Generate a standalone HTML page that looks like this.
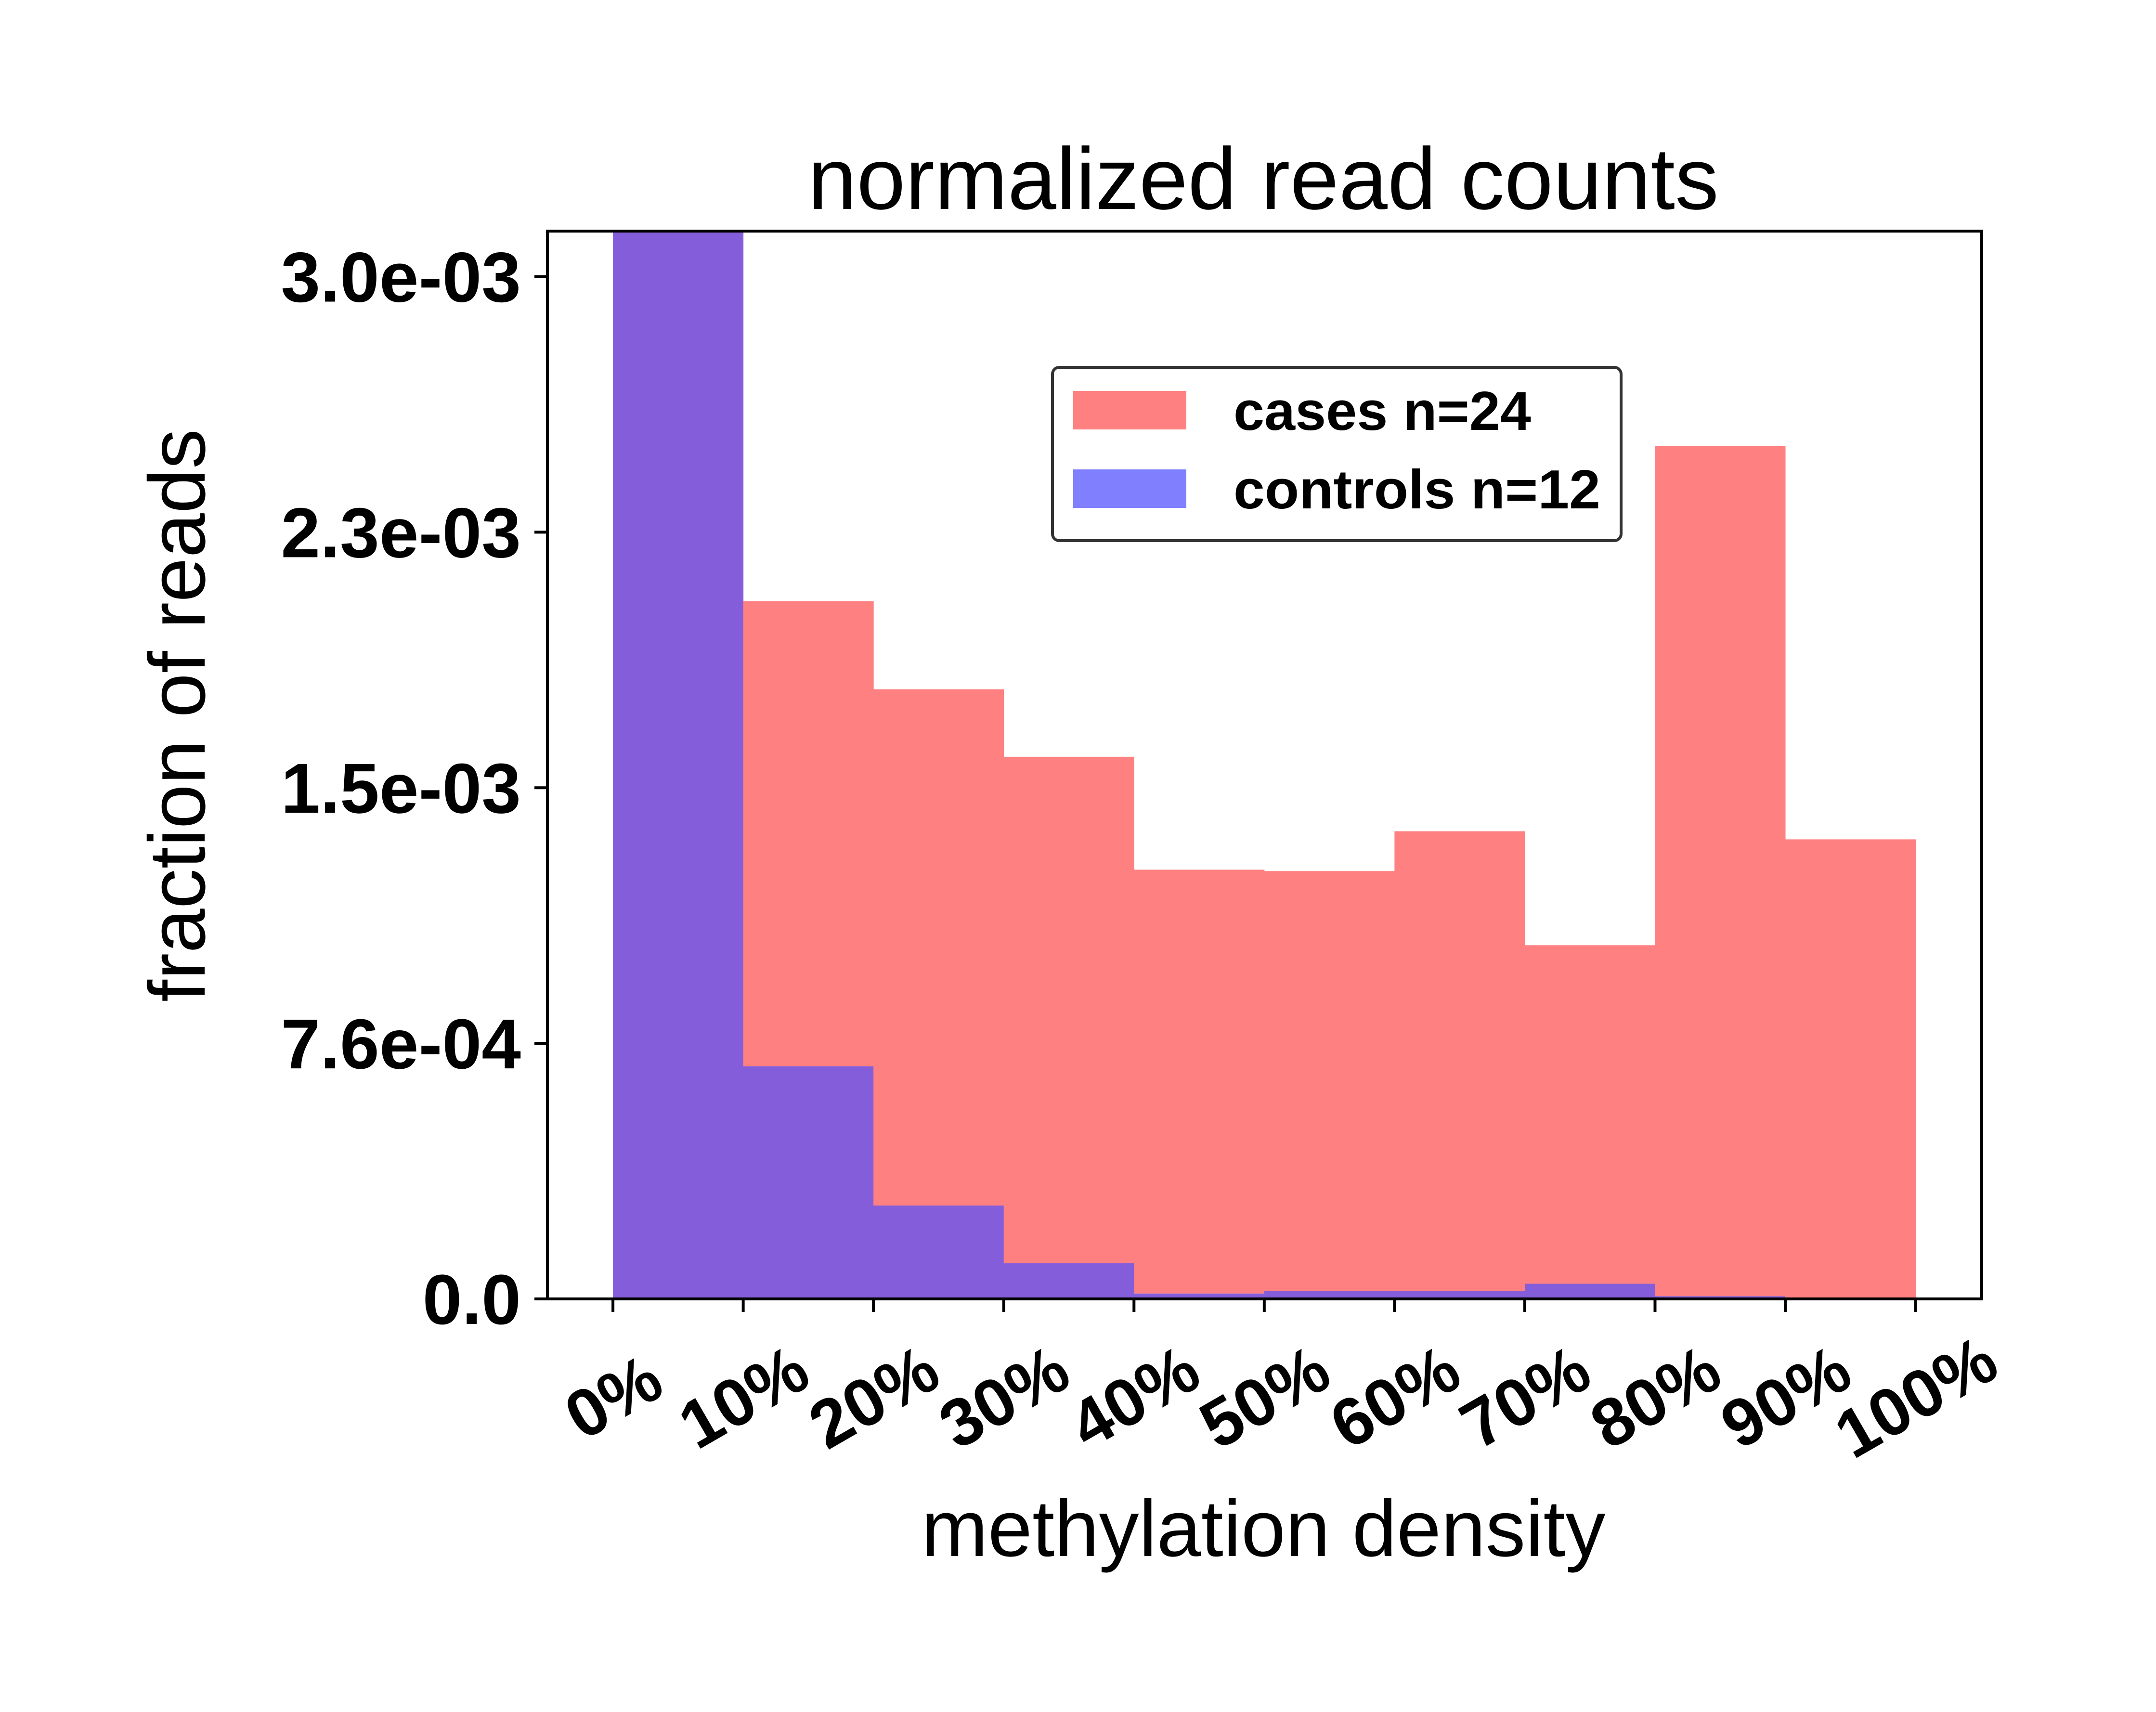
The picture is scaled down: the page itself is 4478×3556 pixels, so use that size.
<!DOCTYPE html>
<html><head><meta charset="utf-8"><style>html,body{margin:0;padding:0;background:#fff}svg{display:block}text{font-family:"Liberation Sans",sans-serif}</style></head>
<body>
<svg id="chart" width="4478" height="3556" viewBox="0 0 4478 3556" xmlns="http://www.w3.org/2000/svg">
<rect width="4478" height="3556" fill="#fff"/>
<g id="bars"></g>
<g id="axes"></g>
<text x="2624" y="434" font-size="182" text-anchor="middle">normalized read counts</text>
<text x="2624" y="3232" font-size="166" text-anchor="middle">methylation density</text>
<text transform="translate(425,1486) rotate(-90)" font-size="166" text-anchor="middle">fraction of reads</text>
<g>
<rect x="2186" y="763" width="1181" height="360" rx="14" fill="#fff" stroke="#333" stroke-width="6"/>
<rect x="2229" y="812" width="235" height="80" fill="#ff8080"/>
<text x="2562" y="893" font-size="114" font-weight="bold" textLength="618" lengthAdjust="spacingAndGlyphs">cases n=24</text>
<rect x="2229" y="975" width="235" height="80" fill="#8080ff"/>
<text x="2562" y="1056" font-size="114" font-weight="bold" textLength="762" lengthAdjust="spacingAndGlyphs">controls n=12</text>
</g>
</svg>
<script>
const binEdges = [0,10,20,30,40,50,60,70,80,90,100];
const casesValues = [0.0045,0.002069,0.001808,0.001608,0.001273,0.001269,0.001387,0.001049,0.00253,0.001363];
const controlsValues = [0.0046,0.00069,0.000277,0.000106,0.000016,0.000024,0.000024,0.000045,0.000008,0.000002];
const yTickValues = [0,0.000758,0.001516,0.002274,0.003032];
const yTickLabels = ["0.0","7.6e-04","1.5e-03","2.3e-03","3.0e-03"];
const xTickValues = [0,10,20,30,40,50,60,70,80,90,100];
const xTickLabels = ["0%","10%","20%","30%","40%","50%","60%","70%","80%","90%","100%"];

const L=1137,R=4116,T=480,B=2698, XMIN=-5.03, XMAX=105.08, YMAX=0.003167;
function sx(v){return L+(v-XMIN)/(XMAX-XMIN)*(R-L);}
function sy(v){return B-Math.min(v,YMAX)/YMAX*(B-T);}
const NS="http://www.w3.org/2000/svg";
function mk(tag,attrs,parent){const e=document.createElementNS(NS,tag);for(const k in attrs)e.setAttribute(k,attrs[k]);parent.appendChild(e);return e;}
const bars=document.getElementById('bars'), axes=document.getElementById('axes');
for(let i=0;i<casesValues.length;i++){
  const x0=sx(binEdges[i]), x1=sx(binEdges[i+1]);
  const c=casesValues[i], k=controlsValues[i], lo=Math.min(c,k);
  if(c>lo){const r=mk('rect',{x:x0,y:sy(c),width:x1-x0+0.5,height:sy(lo)-sy(c),fill:'#ff8080'},bars);
    
    }
  if(k>lo){const r=mk('rect',{x:x0,y:sy(k),width:x1-x0+0.5,height:sy(lo)-sy(k),fill:'#8080ff'},bars);
    
    }
  const o=mk('rect',{x:x0,y:sy(lo),width:x1-x0+0.5,height:B-sy(lo),fill:'#845eda'},bars);
  
  
}
const frame=mk('rect',{x:L,y:T,width:R-L,height:B-T,fill:'none',stroke:'#000','stroke-width':6},axes);


yTickValues.forEach((v,i)=>{
  const y=sy(v);
  const t=mk('line',{x1:L-27,x2:L,y1:y,y2:y,stroke:'#000','stroke-width':6},axes);
  
  
  const tx=mk('text',{x:1082,y:y+52,'font-size':147,'font-weight':'bold','text-anchor':'end'},axes);
  tx.textContent=yTickLabels[i];
  
  
});
xTickValues.forEach((v,i)=>{
  const x=sx(v);
  const t=mk('line',{x1:x,x2:x,y1:B,y2:B+27,stroke:'#000','stroke-width':6},axes);
  
  
  const tx=mk('text',{transform:`translate(${x},${2900}) rotate(-30)`,y:50,'font-size':140,'font-weight':'bold','text-anchor':'middle'},axes);
  tx.textContent=xTickLabels[i];
  
  
});
</script>
</body></html>
